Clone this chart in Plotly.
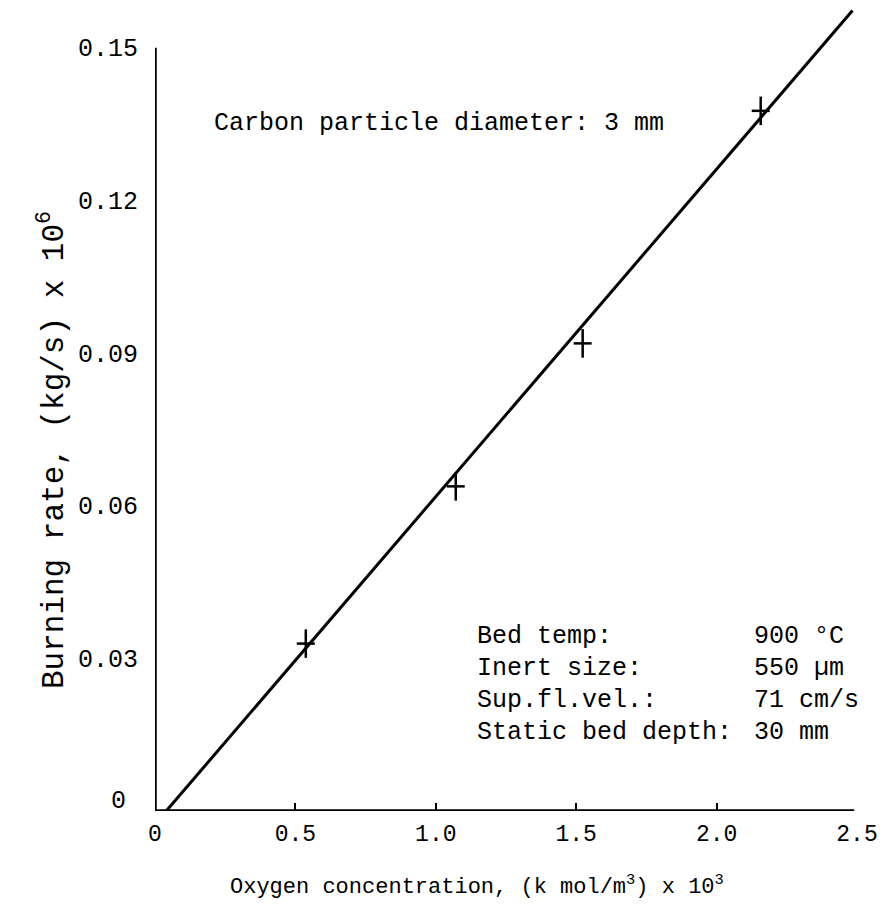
import plotly.graph_objects as go

# Measured data points (crosses)
oxygen_conc = [0.537, 1.071, 1.523, 2.157]
burning_rate = [0.0329, 0.0638, 0.0919, 0.1376]
err_x = [0.032, 0.032, 0.032, 0.032]
err_y = [0.0028, 0.0028, 0.0028, 0.0028]

# Fitted straight line
fit_x = [0.04, 2.484]
fit_y = [0.0, 0.1573]

x_tickvals = [0, 0.5, 1.0, 1.5, 2.0, 2.5]
x_ticktext = ["0", "0.5", "1.0", "1.5", "2.0", "2.5"]
y_tickvals = [0, 0.03, 0.06, 0.09, 0.12, 0.15]
y_ticktext = ["0", "0.03", "0.06", "0.09", "0.12", "0.15"]

info_labels = ["Bed temp:", "Inert size:", "Sup.fl.vel.:", "Static bed depth:"]
info_values = ["900 °C", "550 µm", "71 cm/s", "30 mm"]
info_y = [0.0342, 0.0280, 0.0218, 0.0155]

FONT = "Liberation Mono, Courier New, monospace"

fig = go.Figure()
fig.add_trace(go.Scatter(x=fit_x, y=fit_y, mode="lines",
                         line=dict(color="black", width=3),
                         showlegend=False, hoverinfo="skip"))
fig.add_trace(go.Scatter(x=oxygen_conc, y=burning_rate, mode="markers",
                         marker=dict(size=2, color="black"),
                         error_x=dict(type="data", array=err_x, color="black", thickness=2.5, width=0),
                         error_y=dict(type="data", array=err_y, color="black", thickness=2.5, width=0),
                         showlegend=False))

# Axis lines as shapes
fig.add_shape(type="line", x0=0, x1=0, y0=0, y1=0.15, xref="x", yref="y",
              line=dict(color="black", width=3.5))
fig.add_shape(type="line", x0=0, x1=2.49, y0=0, y1=0, xref="x", yref="y",
              line=dict(color="black", width=3.5))

W, H = 883, 914
ml, mr, mt, mb = 155, 26, 5, 103

annotations = [
    dict(x=0.203, y=0.1352, xref="x", yref="y", text="Carbon particle diameter: 3 mm",
         showarrow=False, xanchor="left", yanchor="middle",
         font=dict(size=25, family=FONT, color="black")),
]
for lab, val, yy in zip(info_labels, info_values, info_y):
    annotations.append(dict(x=1.14, y=yy, xref="x", yref="y", text=lab, showarrow=False,
                            xanchor="left", yanchor="middle",
                            font=dict(size=25, family=FONT, color="black")))
    annotations.append(dict(x=2.126, y=yy, xref="x", yref="y", text=val, showarrow=False,
                            xanchor="left", yanchor="middle",
                            font=dict(size=25, family=FONT, color="black")))

# the y "0" label sits a little higher and further left than the others
annotations.append(dict(x=(118 - ml) / (W - ml - mr), y=y_tickvals[0], xref="paper", yref="y",
                        yshift=10, text=y_ticktext[0], showarrow=False,
                        xanchor="center", yanchor="middle",
                        font=dict(size=25, family=FONT, color="black")))

# y-axis title (rotated)
annotations.append(dict(x=(52 - ml) / (W - ml - mr), y=(H - mb - 450) / (H - mb - mt),
                        xref="paper", yref="paper",
                        text="Burning rate, (kg/s) x 10<sup>6</sup>", textangle=-90,
                        showarrow=False, xanchor="center", yanchor="middle",
                        font=dict(size=31, family=FONT, color="black")))
# x-axis title
annotations.append(dict(x=(477 - ml) / (W - ml - mr), y=(H - mb - 885) / (H - mb - mt),
                        xref="paper", yref="paper",
                        text="Oxygen concentration, (k mol/m<sup>3</sup>) x 10<sup>3</sup>",
                        showarrow=False, xanchor="center", yanchor="middle",
                        font=dict(size=22, family=FONT, color="black")))

y_labels_axis = [""] + y_ticktext[1:]

fig.update_layout(
    width=W, height=H,
    margin=dict(l=ml, r=mr, t=mt, b=mb, autoexpand=False),
    plot_bgcolor="white", paper_bgcolor="white",
    annotations=annotations,
    xaxis=dict(range=[0, 2.5], tickvals=x_tickvals, ticktext=x_ticktext,
               ticks="inside", ticklen=8, tickwidth=2, tickcolor="black",
               showgrid=False, zeroline=False, showline=False,
               tickfont=dict(size=23, family=FONT, color="black"),
               ticklabelstandoff=6),
    yaxis=dict(range=[0, 0.1584], tickvals=y_tickvals, ticktext=y_labels_axis,
               ticks="", showgrid=False, zeroline=False, showline=False,
               tickfont=dict(size=25, family=FONT, color="black"),
               ticklabelstandoff=16),
)

fig.write_html("out.html")
